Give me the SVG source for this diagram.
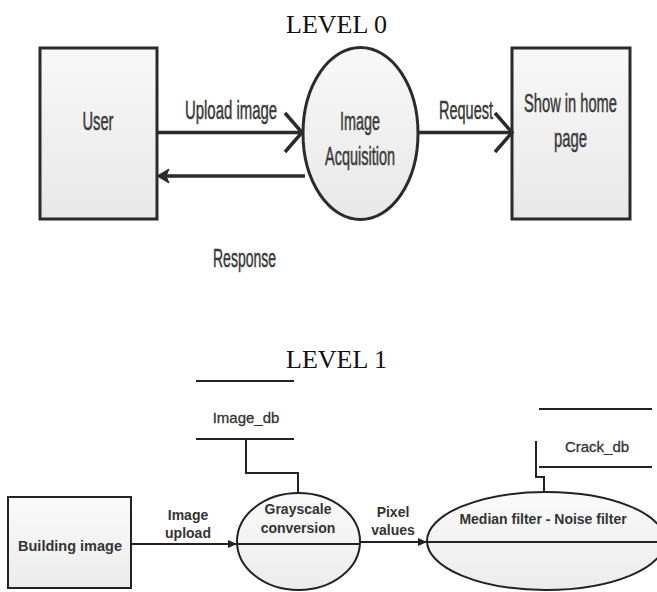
<svg xmlns="http://www.w3.org/2000/svg" width="657" height="592" viewBox="0 0 657 592">
<style>
.title{font-family:"Liberation Serif","Times New Roman",serif;font-size:26px;fill:#111;text-anchor:middle}
.l0{font-family:"Liberation Sans",Arial,sans-serif;font-size:25px;fill:#3a3a3a;stroke:#3a3a3a;stroke-width:0.5;text-anchor:middle}
.l1{font-family:"Liberation Sans",Arial,sans-serif;font-size:14px;font-weight:bold;fill:#333;text-anchor:middle}
.db{font-family:"Liberation Sans",Arial,sans-serif;font-size:15px;fill:#333;stroke:#333;stroke-width:0.3;text-anchor:middle}
.box0{fill:url(#g0);stroke:#2b2b2b;stroke-width:3}
.shape1{fill:url(#g1);stroke:#222;stroke-width:2}
.line0{fill:none;stroke:#2b2b2b;stroke-width:3.5}
.line1{fill:none;stroke:#222;stroke-width:2}
</style>
<defs>
<linearGradient id="g0" x1="0" y1="0" x2="0" y2="1"><stop offset="0" stop-color="#f8f8f8"/><stop offset="1" stop-color="#e8e8e8"/></linearGradient>
<linearGradient id="g1" x1="0" y1="0" x2="0" y2="1"><stop offset="0" stop-color="#fafafa"/><stop offset="1" stop-color="#ececec"/></linearGradient>
<marker id="ah" markerWidth="10" markerHeight="10" refX="9" refY="5" orient="auto" markerUnits="userSpaceOnUse"><path d="M0,1 L9,5 L0,9 z" fill="#222"/></marker>
</defs>
<rect width="657" height="592" fill="#fff"/>
<text class="title" x="336.5" y="33">LEVEL 0</text>
<text class="title" x="336.5" y="368">LEVEL 1</text>

<g id="user"><rect class="box0" x="40" y="48" width="117" height="171"/><text class="l0" transform="translate(98,130) scale(0.587,1)">User</text></g>
<g id="image-acquisition"><ellipse class="box0" cx="360.5" cy="133.5" rx="57.5" ry="86"/><text class="l0" transform="translate(360,130) scale(0.576,1)">Image</text><text class="l0" transform="translate(360,165) scale(0.579,1)">Acquisition</text></g>
<g id="show-home"><rect class="box0" x="512" y="48" width="118" height="171"/><text class="l0" transform="translate(570.5,112) scale(0.587,1)">Show in home</text><text class="l0" transform="translate(570.5,147) scale(0.594,1)">page</text></g>

<g id="image-db"><line class="line1" x1="196" y1="381" x2="294" y2="381"/><line class="line1" x1="196" y1="439" x2="294" y2="439"/><text class="db" x="246" y="423">Image_db</text></g>
<g id="crack-db"><line class="line1" x1="539" y1="409" x2="652" y2="409"/><line class="line1" x1="539" y1="467" x2="652" y2="467"/><line class="line1" x1="536" y1="441" x2="536" y2="468"/><text class="db" x="597" y="452">Crack_db</text></g>
<g id="building-image"><rect class="shape1" x="8" y="497" width="123" height="91"/><text class="l1" x="70" y="551" style="font-size:14.5px">Building image</text></g>
<g id="grayscale"><ellipse class="shape1" cx="298.5" cy="541.5" rx="61.5" ry="48.5"/><line class="line1" x1="237" y1="544" x2="360" y2="544"/><text class="l1" x="298" y="514">Grayscale</text><text class="l1" x="298" y="533">conversion</text></g>
<g id="median"><ellipse class="shape1" cx="546" cy="541" rx="119" ry="49"/><line class="line1" x1="427" y1="542" x2="657" y2="542"/><text class="l1" x="543" y="524">Median filter - Noise filter</text></g>

<g id="connectors">
<line class="line0" x1="157" y1="132.5" x2="301" y2="132.5"/>
<polyline class="line0" points="285,113 302,132.5 285,152"/>
<text class="l0" transform="translate(231,119) scale(0.597,1)">Upload image</text>
<line class="line0" x1="305" y1="176" x2="164" y2="176"/>
<path d="M157,176 L169,169 L166,176 L169,183 z" fill="#2b2b2b" stroke="#2b2b2b" stroke-width="1"/>
<text class="l0" transform="translate(244.5,267) scale(0.56,1)">Response</text>
<line class="line0" x1="418" y1="132.5" x2="511" y2="132.5"/>
<polyline class="line0" points="495,113 512,132.5 495,152"/>
<text class="l0" transform="translate(466,119) scale(0.58,1)">Request</text>

<polyline class="line1" points="246,439 246,473 298,473 298,493"/>
<polyline class="line1" points="536,467 536,477 544,477 544,492"/>
<line class="line1" x1="131" y1="544" x2="237" y2="544" marker-end="url(#ah)"/>
<text class="l1" x="188" y="520">Image</text>
<text class="l1" x="188" y="538">upload</text>
<line class="line1" x1="360" y1="542" x2="427" y2="542" marker-end="url(#ah)"/>
<text class="l1" x="393" y="517">Pixel</text>
<text class="l1" x="393" y="535">values</text>
</g>
</svg>
